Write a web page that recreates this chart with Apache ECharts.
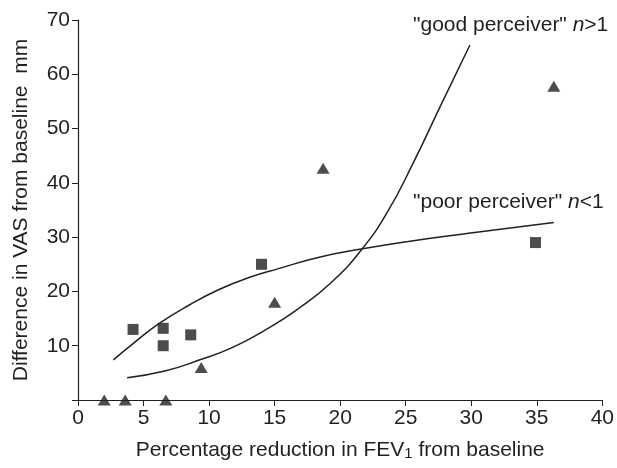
<!DOCTYPE html>
<html>
<head>
<meta charset="utf-8">
<script src="https://cdn.jsdelivr.net/npm/echarts@6/dist/echarts.min.js"></script>
<style>
  html, body { margin: 0; padding: 0; background: #fff; }
  #chart { width: 617px; height: 468px; }
</style>
</head>
<body>
<div id="chart"></div>
<script>
// data
var squares = [[4.2, 13], [6.5, 13.2], [6.5, 10], [8.6, 12], [14.0, 25], [34.9, 29]];
var triangles = [[2.0, 0], [3.6, 0], [6.7, 0], [9.4, 6], [15.0, 18], [18.7, 42.7], [36.3, 57.8]];
var poorCurve = [[2.7, 7.4], [4.2, 10.4], [6.2, 14.1], [8.5, 17.5], [10.8, 20.4], [13.1, 22.6],
  [15.3, 24.2], [18.4, 26.3], [21.6, 27.8], [25.2, 29.2], [29.8, 30.7], [36.3, 32.7]];
var goodCurve = [[3.75, 4.1], [6.7, 5.4], [9.3, 7.4], [11.8, 9.7], [14.3, 12.9], [16.8, 16.8],
  [19.3, 21.6], [21.65, 27.75], [23.6, 34.6], [25.5, 43.3], [27.7, 54.4], [29.9, 65.4]];
var xTicks = [0, 5, 10, 15, 20, 25, 30, 35, 40];
var yTicks = [0, 10, 20, 30, 40, 50, 60, 70];

var font = 'Liberation Sans Narrow, Arial Narrow, sans-serif';
var ink = '#231f20';

var chart = echarts.init(document.getElementById('chart'));
var option = {
  animation: false,
  grid: { left: 78, right: 12, top: 20, bottom: 68 },
  xAxis: {
    type: 'value',
    min: xTicks[0],
    max: xTicks[xTicks.length - 1],
    interval: 5,
    splitLine: { show: false },
    axisLine: { onZero: false, lineStyle: { color: ink, width: 1.2 } },
    axisTick: { show: true, length: 6, lineStyle: { color: ink } },
    axisLabel: { color: ink, fontFamily: font, fontSize: 21, margin: 8 },
    name: 'Percentage reduction in FEV{sub|1} from baseline',
    nameLocation: 'middle',
    nameGap: 40,
    nameTextStyle: {
      color: ink, fontFamily: font, fontSize: 21,
      rich: { sub: { fontSize: 15, fontFamily: font, color: ink, verticalAlign: 'bottom', padding: [6, 0, 0, 0] } }
    }
  },
  yAxis: {
    type: 'value',
    min: yTicks[0],
    max: yTicks[yTicks.length - 1],
    interval: 10,
    splitLine: { show: false },
    axisLine: { show: true, onZero: false, lineStyle: { color: ink, width: 1.2 } },
    axisTick: { show: true, length: 6, lineStyle: { color: ink } },
    axisLabel: {
      color: ink, fontFamily: font, fontSize: 21, margin: 8,
      formatter: function (v) { return v === 0 ? '' : v; }
    },
    name: 'Difference in VAS from baseline  mm',
    nameLocation: 'middle',
    nameGap: 46,
    nameTextStyle: { color: ink, fontFamily: font, fontSize: 21 }
  },
  series: [
    {
      type: 'line', data: poorCurve, smooth: 0.5, symbol: 'none', clip: false,
      lineStyle: { color: ink, width: 1.5 }
    },
    {
      type: 'line', data: goodCurve, smooth: 0.5, symbol: 'none', clip: false,
      lineStyle: { color: ink, width: 1.5 }
    },
    {
      type: 'scatter', data: squares, symbol: 'rect', symbolSize: 11, clip: false,
      itemStyle: { color: ink }
    },
    {
      type: 'scatter', data: triangles, symbol: 'triangle', symbolSize: [13, 11], clip: false,
      itemStyle: { color: ink }
    }
  ],
  graphic: [
    {
      type: 'text', left: 413, top: 15,
      style: {
        text: '"good perceiver" {i|n}>1',
        font: '21px ' + font, fill: ink,
        rich: { i: { fontStyle: 'italic', fontSize: 21, fontFamily: font, fill: ink } }
      }
    },
    {
      type: 'text', left: 413, top: 192,
      style: {
        text: '"poor perceiver" {i|n}<1',
        font: '21px ' + font, fill: ink,
        rich: { i: { fontStyle: 'italic', fontSize: 21, fontFamily: font, fill: ink } }
      }
    }
  ]
};
chart.setOption(option);
</script>
</body>
</html>
